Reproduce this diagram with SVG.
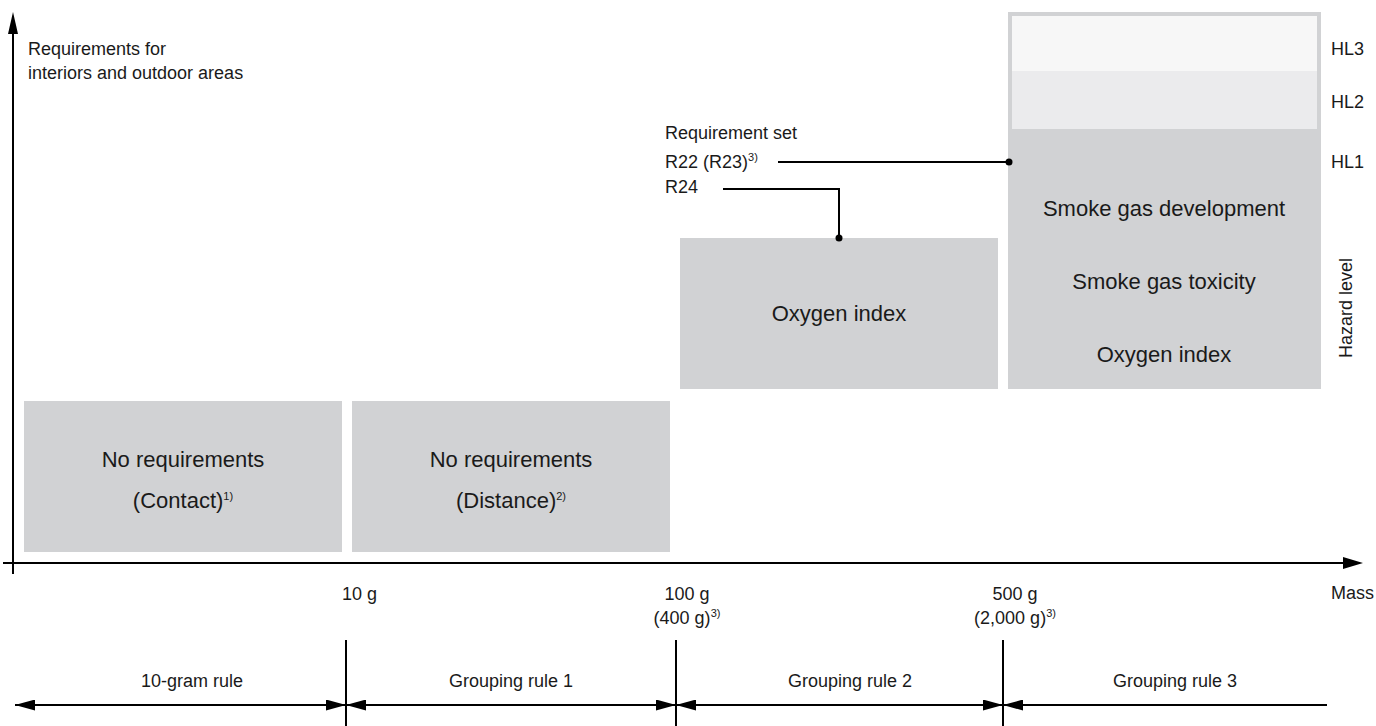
<svg xmlns="http://www.w3.org/2000/svg" width="1376" height="726" viewBox="0 0 1376 726">
<style>
text{font-family:"Liberation Sans",Arial,sans-serif;fill:#1a1a1a}
.s{font-size:18px}
.b{font-size:22px}
.sup{font-size:11px}
.box{fill:#d1d2d4}
.ln{stroke:#000;stroke-width:2;fill:none}
</style>
<defs>
<marker id="ah" markerUnits="userSpaceOnUse" markerWidth="20" markerHeight="11" viewBox="0 0 20 11" refX="20" refY="5.5" orient="auto-start-reverse">
<path d="M0,0 L20,5.5 L0,11 z" fill="#000"/>
</marker>
</defs>
<rect width="1376" height="726" fill="#fff"/>

<g id="axes">
<line class="ln" x1="13" y1="30" x2="13" y2="574"/>
<polygon points="13,12 8,34 18,34" fill="#000"/>
<line class="ln" x1="3" y1="563" x2="1345" y2="563"/>
<polygon points="1363,563 1343,557 1343,569" fill="#000"/>
<text class="s" x="28" y="55">Requirements for</text>
<text class="s" x="28" y="79">interiors and outdoor areas</text>
<text class="s" x="1331" y="599">Mass</text>
</g>

<g id="box-contact">
<rect class="box" x="24" y="401" width="318" height="151"/>
<text class="b" x="183" y="467" text-anchor="middle">No requirements</text>
<text class="b" x="183" y="508" text-anchor="middle">(Contact)<tspan class="sup" dy="-8">1)</tspan></text>
</g>

<g id="box-distance">
<rect class="box" x="352" y="401" width="318" height="151"/>
<text class="b" x="511" y="467" text-anchor="middle">No requirements</text>
<text class="b" x="511" y="508" text-anchor="middle">(Distance)<tspan class="sup" dy="-8">2)</tspan></text>
</g>

<g id="box-oxygen">
<rect class="box" x="680" y="238" width="318" height="151"/>
<text class="b" x="839" y="321" text-anchor="middle">Oxygen index</text>
</g>

<g id="box-hazard">
<rect x="1008" y="12" width="313" height="377" fill="#d1d2d4"/>
<rect x="1012" y="16" width="305" height="55" fill="#f7f7f7"/>
<rect x="1012" y="71" width="305" height="58" fill="#ebebed"/>
<text class="b" x="1164" y="216" text-anchor="middle">Smoke gas development</text>
<text class="b" x="1164" y="289" text-anchor="middle">Smoke gas toxicity</text>
<text class="b" x="1164" y="362" text-anchor="middle">Oxygen index</text>
<text class="s" x="1331" y="55">HL3</text>
<text class="s" x="1331" y="108">HL2</text>
<text class="s" x="1331" y="168">HL1</text>
<text class="s" x="1352" y="308" text-anchor="middle" transform="rotate(-90 1352 308)">Hazard level</text>
</g>

<g id="requirement-set">
<text class="s" x="665" y="139">Requirement set</text>
<text class="s" x="665" y="168">R22 (R23)<tspan class="sup" dy="-7">3)</tspan></text>
<text class="s" x="665" y="193">R24</text>
</g>

<g id="connectors">
<line class="ln" x1="778" y1="162" x2="1009" y2="162"/>
<circle cx="1009" cy="162" r="3.5" fill="#000"/>
<polyline class="ln" points="723,189 839,189 839,238"/>
<circle cx="839" cy="238" r="3.5" fill="#000"/>
</g>

<g id="scale">
<text class="s" x="342" y="600">10 g</text>
<text class="s" x="687" y="600" text-anchor="middle">100 g</text>
<text class="s" x="687" y="624" text-anchor="middle">(400 g)<tspan class="sup" dy="-7">3)</tspan></text>
<text class="s" x="1015" y="600" text-anchor="middle">500 g</text>
<text class="s" x="1015" y="624" text-anchor="middle">(2,000 g)<tspan class="sup" dy="-7">3)</tspan></text>
<line class="ln" x1="346" y1="640" x2="346" y2="726"/>
<line class="ln" x1="676" y1="640" x2="676" y2="726"/>
<line class="ln" x1="1003" y1="640" x2="1003" y2="726"/>
<line class="ln" x1="15" y1="705" x2="346" y2="705" marker-start="url(#ah)" marker-end="url(#ah)"/>
<line class="ln" x1="346" y1="705" x2="676" y2="705" marker-start="url(#ah)" marker-end="url(#ah)"/>
<line class="ln" x1="676" y1="705" x2="1003" y2="705" marker-start="url(#ah)" marker-end="url(#ah)"/>
<line class="ln" x1="1003" y1="705" x2="1327" y2="705" marker-start="url(#ah)"/>
<text class="s" x="192" y="687" text-anchor="middle">10-gram rule</text>
<text class="s" x="511" y="687" text-anchor="middle">Grouping rule 1</text>
<text class="s" x="850" y="687" text-anchor="middle">Grouping rule 2</text>
<text class="s" x="1175" y="687" text-anchor="middle">Grouping rule 3</text>
</g>
</svg>
